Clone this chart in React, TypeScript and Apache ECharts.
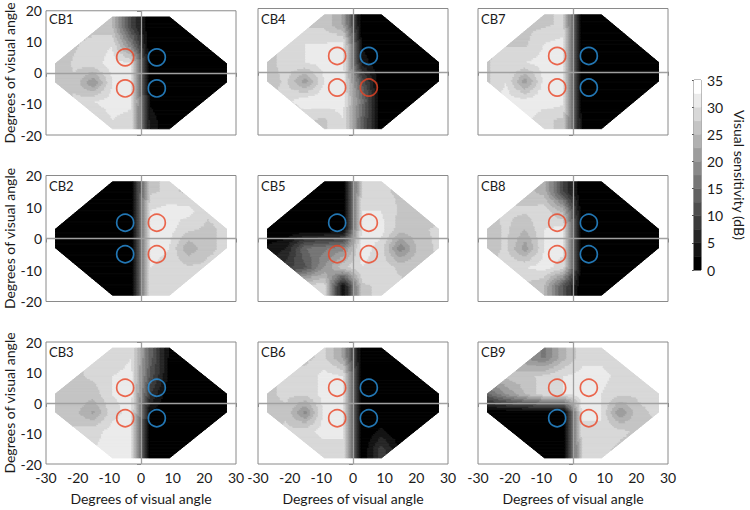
import React, { useEffect, useRef } from "react";
import * as echarts from "echarts";

// ---- data ---------------------------------------------------------------
// test locations (degrees of visual angle)
const X_NODES = [-27, -21, -15, -9, -3, 3, 9, 15, 21, 27];
const Y_NODES = [15, 9, 3, -3, -9, -15];
// tested field outline (degrees)
const FIELD_OUTLINE = [
  [-9, 18], [9, 18], [27, 3], [27, -3], [9, -18], [-9, -18], [-27, -3], [-27, 3],
];
const FIELD_X = [-27, 27];
const FIELD_Y = [-18, 18];

const PANEL_NAMES = ["CB1", "CB4", "CB7", "CB2", "CB5", "CB8", "CB3", "CB6", "CB9"];

// sensitivity (dB), rows = Y_NODES (top to bottom), cols = X_NODES
const CB1 = [
  [26, 26, 26, 25, 10, 0, 0, 0, 0, 0],
  [26, 27, 29, 30, 18, 0, 0, 0, 0, 0],
  [25, 28, 29, 31, 31, 0, 0, 0, 0, 0],
  [25, 27, 20, 30, 31, 0, 0, 0, 0, 0],
  [26, 28, 30, 31, 31, 2, 0, 0, 0, 0],
  [26, 26, 28, 30, 29, 4, 0, 0, 0, 0],
];
const CB4 = [
  [26, 26, 27, 27, 22, 0, 0, 0, 0, 0],
  [27, 28, 30, 30, 31, 2, 0, 0, 0, 0],
  [26, 29, 30, 31, 31, 4, 0, 0, 0, 0],
  [26, 28, 21, 30, 31, 12, 0, 0, 0, 0],
  [27, 29, 32, 32, 31, 16, 0, 0, 0, 0],
  [27, 27, 28, 27, 30, 14, 0, 0, 0, 0],
];
const CB7 = [
  [28, 28, 27, 27, 28, 0, 0, 0, 0, 0],
  [27, 27, 27, 30, 31, 0, 0, 0, 0, 0],
  [27, 30, 30, 31, 31, 0, 0, 0, 0, 0],
  [27, 30, 21, 31, 31, 0, 0, 0, 0, 0],
  [29, 31, 31, 32, 31, 0, 0, 0, 0, 0],
  [30, 30, 31, 28, 27, 2, 0, 0, 0, 0],
];
const CB2 = [
  [0, 0, 0, 0, 0, 27, 28, 27, 27, 27],
  [0, 0, 0, 0, 0, 30, 31, 31, 28, 28],
  [0, 0, 0, 0, 0, 31, 31, 28, 27, 28],
  [0, 0, 0, 0, 0, 31, 30, 23, 27, 28],
  [0, 0, 0, 0, 0, 30, 29, 28, 28, 28],
  [0, 0, 0, 0, 0, 29, 28, 28, 28, 28],
];
const CB5 = [
  [0, 0, 0, 0, 0, 28, 28, 27, 27, 27],
  [0, 0, 0, 0, 0, 30, 30, 27, 26, 26],
  [0, 0, 0, 0, 1, 31, 31, 26, 27, 28],
  [3, 5, 15, 17, 19, 31, 29, 18, 26, 28],
  [5, 9, 12, 20, 27, 30, 29, 27, 27, 27],
  [22, 25, 29, 29, 2, 27, 28, 28, 27, 27],
];
const CB8 = [
  [26, 26, 26, 24, 10, 0, 0, 0, 0, 0],
  [27, 28, 28, 29, 24, 0, 0, 0, 0, 0],
  [26, 28, 25, 30, 31, 0, 0, 0, 0, 0],
  [26, 28, 21, 30, 31, 0, 0, 0, 0, 0],
  [27, 29, 30, 31, 29, 0, 0, 0, 0, 0],
  [27, 27, 27, 25, 12, 0, 0, 0, 0, 0],
];
const CB3 = [
  [26, 27, 28, 28, 30, 14, 2, 0, 0, 0],
  [27, 27, 28, 30, 31, 12, 2, 0, 0, 0],
  [26, 27, 26, 30, 31, 8, 0, 0, 0, 0],
  [26, 26, 22, 29, 31, 2, 0, 0, 0, 0],
  [27, 28, 29, 31, 31, 0, 0, 0, 0, 0],
  [28, 28, 30, 31, 31, 0, 0, 0, 0, 0],
];
const CB6 = [
  [27, 27, 27, 28, 22, 0, 0, 0, 0, 0],
  [27, 28, 28, 31, 30, 0, 0, 0, 0, 0],
  [27, 28, 28, 31, 31, 0, 0, 0, 0, 0],
  [27, 27, 19, 31, 31, 0, 0, 0, 0, 0],
  [27, 28, 29, 31, 31, 0, 3, 0, 0, 0],
  [28, 28, 28, 29, 29, 0, 9, 2, 0, 0],
];
const CB9 = [
  [22, 22, 20, 17, 24, 29, 29, 28, 27, 27],
  [24, 26, 27, 28, 30, 31, 31, 29, 28, 28],
  [14, 20, 25, 29, 30, 31, 30, 28, 28, 28],
  [0, 0, 0, 0, 0, 31, 30, 20, 27, 28],
  [0, 0, 0, 0, 0, 29, 30, 28, 27, 27],
  [0, 0, 0, 0, 0, 28, 28, 27, 27, 27],
];
const PANEL_GRIDS = [CB1, CB4, CB7, CB2, CB5, CB8, CB3, CB6, CB9];

// stimulus locations: top-left, top-right, bottom-left, bottom-right
const STIM_X = [-5, 5, -5, 5];
const STIM_Y = [5, 5, -5, -5];
const CB1_STIM = ["red", "blue", "red", "blue"];
const CB4_STIM = ["red", "blue", "red", "red"];
const CB7_STIM = ["red", "blue", "red", "blue"];
const CB2_STIM = ["blue", "red", "blue", "red"];
const CB5_STIM = ["blue", "red", "red", "red"];
const CB8_STIM = ["red", "blue", "red", "blue"];
const CB3_STIM = ["red", "blue", "red", "blue"];
const CB6_STIM = ["red", "blue", "red", "blue"];
const CB9_STIM = ["red", "red", "blue", "red"];
const PANEL_STIM = [CB1_STIM, CB4_STIM, CB7_STIM, CB2_STIM, CB5_STIM, CB8_STIM, CB3_STIM, CB6_STIM, CB9_STIM];

// colour scale
const SCALE_EDGES = [0, 2.5, 5, 7.5, 10, 12.5, 15, 17.5, 20, 22.5, 25, 27.5, 30, 32.5, 35];

// ---- layout / style -----------------------------------------------------
const COL_LEFT = [46, 258, 478];
const PLOT_W = 190;
const ROW_TOP = [8.5, 175.5, 342];
const ROW_H = [126.5, 126, 122];
const FONT = "Lato, 'Open Sans', sans-serif";
const TEXT = "#1a1a1a";
const FRAME = "#8a8a8a";
const CROSS = "#a0a0a0";
const RED = "#ea4424";
const BLUE = "#2a93e0";
const BAND_STEP = SCALE_EDGES[1] - SCALE_EDGES[0];
const N_BANDS = SCALE_EDGES.length - 1;

function bandOf(v: number) {
  return Math.max(0, Math.min(N_BANDS - 1, Math.floor(v / BAND_STEP)));
}
function bandGray(k: number) {
  const g = Math.round((255 * k) / (N_BANDS - 1));
  return `rgb(${g},${g},${g})`;
}
function sample(grid: number[][], x: number, y: number) {
  const dx = X_NODES[1] - X_NODES[0];
  const dy = Y_NODES[0] - Y_NODES[1];
  let fx = (x - X_NODES[0]) / dx;
  let fy = (Y_NODES[0] - y) / dy;
  fx = Math.max(0, Math.min(X_NODES.length - 1, fx));
  fy = Math.max(0, Math.min(Y_NODES.length - 1, fy));
  const i0 = Math.min(Math.floor(fx), X_NODES.length - 2);
  const j0 = Math.min(Math.floor(fy), Y_NODES.length - 2);
  const tx = fx - i0;
  const ty = fy - j0;
  const a = grid[j0][i0], b = grid[j0][i0 + 1];
  const c = grid[j0 + 1][i0], d = grid[j0 + 1][i0 + 1];
  return (a * (1 - tx) + b * tx) * (1 - ty) + (c * (1 - tx) + d * tx) * ty;
}
function clipPoly(pts: number[][], clip: number[][]) {
  let area = 0;
  for (let i = 0; i < clip.length; i++) {
    const p = clip[i], q = clip[(i + 1) % clip.length];
    area += p[0] * q[1] - q[0] * p[1];
  }
  const s = area > 0 ? 1 : -1;
  let out = pts;
  for (let i = 0; i < clip.length && out.length; i++) {
    const a = clip[i], b = clip[(i + 1) % clip.length];
    const cr = (p: number[]) => s * ((b[0] - a[0]) * (p[1] - a[1]) - (b[1] - a[1]) * (p[0] - a[0]));
    const input = out;
    out = [];
    for (let j = 0; j < input.length; j++) {
      const p = input[j], q = input[(j + 1) % input.length];
      const dp = cr(p), dq = cr(q);
      if (dp >= -1e-9) out.push(p);
      if ((dp >= -1e-9) !== (dq >= -1e-9)) {
        const t = dp / (dp - dq);
        out.push([p[0] + t * (q[0] - p[0]), p[1] + t * (q[1] - p[1])]);
      }
    }
  }
  return out;
}

const makeFieldRender = (grid: number[][]) => (_params: any, api: any) => {
  const yc = api.value(0) as number;
  const half = (Y_NODES[0] - Y_NODES[1]) / 2;
  const y0 = Math.max(yc - half, FIELD_Y[0]);
  const y1 = Math.min(yc + half, FIELD_Y[1]);
  const STEP = 0.5;
  const nx = Math.round((FIELD_X[1] - FIELD_X[0]) / STEP);
  const ny = Math.round((y1 - y0) / STEP);
  const children: any[] = [];
  for (let j = 0; j < ny; j++) {
    const ys = y0 + j * STEP, ye = ys + STEP, ym = ys + STEP / 2;
    let start = 0;
    let band = bandOf(sample(grid, FIELD_X[0] + STEP / 2, ym));
    for (let i = 1; i <= nx; i++) {
      const b = i < nx ? bandOf(sample(grid, FIELD_X[0] + (i + 0.5) * STEP, ym)) : -1;
      if (b !== band) {
        const xs = FIELD_X[0] + start * STEP, xe = FIELD_X[0] + i * STEP;
        const poly = clipPoly([[xs, ys], [xe, ys], [xe, ye], [xs, ye]], FIELD_OUTLINE);
        if (poly.length >= 3) {
          const col = bandGray(band);
          children.push({
            type: "polygon",
            shape: { points: poly.map((p) => api.coord(p)) },
            style: { fill: col, stroke: col, lineWidth: 1 },
          });
        }
        start = i;
        band = b;
      }
    }
  }
  return { type: "group", children };
};

function buildOption() {
  const grids: any[] = [];
  const xAxes: any[] = [];
  const yAxes: any[] = [];
  const series: any[] = [];
  const titles: any[] = [];
  const axisName = "Degrees of visual angle";

  PANEL_NAMES.forEach((name, i) => {
    const r = Math.floor(i / 3), c = i % 3;
    grids.push({
      left: COL_LEFT[c], top: ROW_TOP[r], width: PLOT_W, height: ROW_H[r],
      show: true, borderColor: FRAME, borderWidth: 1, backgroundColor: "transparent",
    });
    xAxes.push({
      type: "value", gridIndex: i, min: -30, max: 30, interval: 10,
      axisLine: { show: false }, splitLine: { show: false },
      axisTick: { show: true, length: 4, lineStyle: { color: FRAME } },
      axisLabel: { show: r === 2, fontSize: 14, color: TEXT, fontFamily: FONT, margin: 6 },
      name: r === 2 ? axisName : "", nameLocation: "middle", nameGap: 27,
      nameTextStyle: { fontSize: 14, color: TEXT, fontFamily: FONT },
    });
    yAxes.push({
      type: "value", gridIndex: i, min: -20, max: 20, interval: 10,
      axisLine: { show: false }, splitLine: { show: false },
      axisTick: { show: true, length: 4, lineStyle: { color: FRAME } },
      axisLabel: { show: c === 0, fontSize: 14, color: TEXT, fontFamily: FONT, margin: 4 },
      name: c === 0 ? axisName : "", nameLocation: "middle", nameGap: 29,
      nameTextStyle: { fontSize: 14, color: TEXT, fontFamily: FONT },
    });
    const grid = PANEL_GRIDS[i];
    series.push({
      type: "custom", xAxisIndex: i, yAxisIndex: i, silent: true, z: 2,
      renderItem: makeFieldRender(grid),
      data: Y_NODES.map((y, k) => [y, ...grid[k]]),
    });
    const stim = PANEL_STIM[i];
    series.push({
      type: "scatter", xAxisIndex: i, yAxisIndex: i, silent: true, z: 4,
      symbol: "circle", symbolSize: 17,
      itemStyle: { color: "rgba(0,0,0,0)", borderWidth: 1.7 },
      data: STIM_X.map((x, k) => ({
        value: [x, STIM_Y[k]],
        itemStyle: { borderColor: stim[k] === "red" ? RED : BLUE },
      })),
      markLine: {
        silent: true, symbol: ["none", "none"], label: { show: false },
        lineStyle: { color: CROSS, width: 1.3, type: "solid" },
        data: [{ xAxis: 0 }, { yAxis: 0 }],
      },
    });
    titles.push({
      text: name, left: COL_LEFT[c] + 3, top: ROW_TOP[r] + 3.5, padding: 0,
      textStyle: { fontSize: 13, fontWeight: "normal", color: TEXT, fontFamily: FONT },
    });
  });

  // colour bar
  const cb = PANEL_NAMES.length;
  grids.push({ left: 694, top: 80, width: 7, height: 190, show: true, borderColor: "#555", borderWidth: 1 });
  xAxes.push({ type: "value", gridIndex: cb, min: 0, max: 1, show: false });
  yAxes.push({
    type: "value", gridIndex: cb, min: 0, max: 35, interval: 5, position: "right",
    axisLine: { show: false }, splitLine: { show: false },
    axisTick: { show: true, inside: true, length: 2, lineStyle: { color: "#555" } },
    axisLabel: { fontSize: 14, color: TEXT, fontFamily: FONT, margin: 6 },
    name: "Visual sensitivity (dB)", nameLocation: "middle", nameRotate: -90, nameGap: 31,
    nameTextStyle: { fontSize: 14, color: TEXT, fontFamily: FONT },
  });
  series.push({
    type: "custom", xAxisIndex: cb, yAxisIndex: cb, silent: true, z: 1,
    data: SCALE_EDGES.slice(0, -1).map((lo, k) => [lo, SCALE_EDGES[k + 1]]),
    renderItem: (_p: any, api: any) => {
      const lo = api.value(0) as number, hi = api.value(1) as number;
      const a = api.coord([0, hi]);
      const b = api.coord([1, lo]);
      const col = bandGray(bandOf((lo + hi) / 2));
      return {
        type: "rect",
        shape: { x: a[0], y: a[1], width: b[0] - a[0], height: b[1] - a[1] },
        style: { fill: col, stroke: col, lineWidth: 0.5 },
      };
    },
  });

  return {
    animation: false,
    backgroundColor: "#ffffff",
    title: titles,
    grid: grids,
    xAxis: xAxes,
    yAxis: yAxes,
    series,
  };
}

export default function App() {
  const ref = useRef<HTMLDivElement>(null);
  useEffect(() => {
    if (!ref.current) return;
    const chart = echarts.init(ref.current, undefined, { renderer: "svg" });
    chart.setOption(buildOption() as any);
    return () => chart.dispose();
  }, []);
  return (
    <div
      ref={ref}
      style={{ position: "fixed", left: 0, top: 0, width: 750, height: 510, background: "#fff" }}
    />
  );
}
